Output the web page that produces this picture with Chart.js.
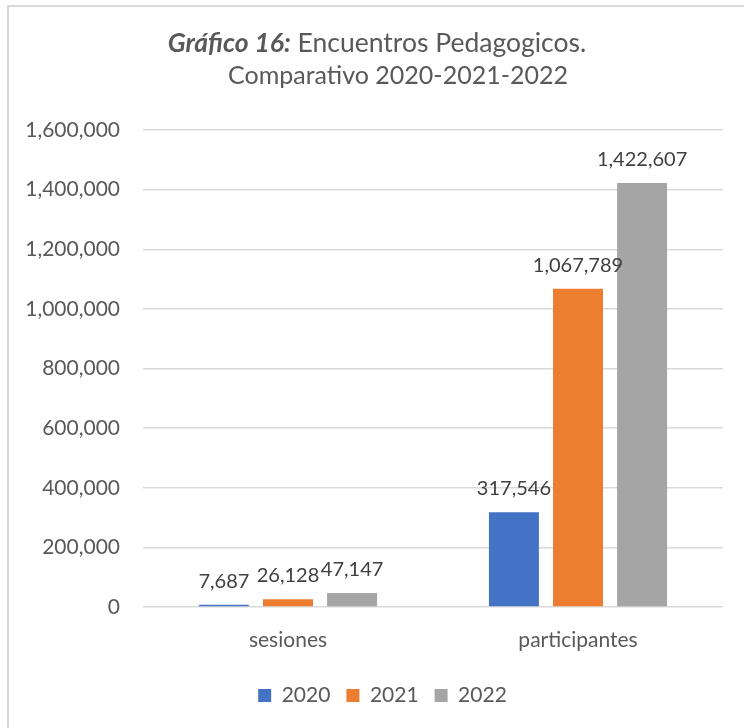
<!DOCTYPE html>
<html lang="es">
<head>
  <meta charset="UTF-8">
  <title>Encuentros Pedagogicos</title>
  <script src="https://cdn.jsdelivr.net/npm/chart.js"></script>
  <style>
    html, body {
      margin: 0;
      padding: 0;
      background: #fff;
      overflow: hidden;
    }
    #frame {
      position: absolute;
      left: 7px;
      top: 5px;
      width: 900px;
      height: 900px;
      border: 2px solid #d9d9d9;
    }
    #wrap {
      position: absolute;
      left: 0;
      top: 0;
      width: 744px;
      height: 728px;
    }
  </style>
</head>
<body>
  <div id="frame"></div>
  <div id="wrap"><canvas id="myChart" width="744" height="728"></canvas></div>

  <script>
    // datos
    const categorias = ['sesiones', 'participantes'];
    const anios = ['2020', '2021', '2022'];
    const valores2020 = [7687, 317546];
    const valores2021 = [26128, 1067789];
    const valores2022 = [47147, 1422607];
    const colores = ['#4472C4', '#ED7D31', '#A5A5A5'];
    const ticksY = [0, 200000, 400000, 600000, 800000, 1000000, 1200000, 1400000, 1600000];

    const tituloNegrita = 'Gráfico 16:';
    const tituloResto = ' Encuentros Pedagogicos.';
    const tituloLinea2 = 'Comparativo 2020-2021-2022';

    const fuente = 'Lato, "Open Sans", sans-serif';
    const gris = '#595959';

    const fmt = v => v.toLocaleString('en-US');

    // titulo con parte en negrita cursiva
    const tituloPlugin = {
      id: 'tituloMixto',
      afterDraw(chart) {
        const ctx = chart.ctx;
        ctx.save();
        ctx.fillStyle = gris;
        ctx.textBaseline = 'alphabetic';
        ctx.textAlign = 'left';
        const fNeg = 'italic bold 26.5px ' + fuente;
        const fNor = '26.5px ' + fuente;
        ctx.font = fNeg;
        const w1 = ctx.measureText(tituloNegrita).width;
        ctx.font = fNor;
        const w2 = ctx.measureText(tituloResto).width;
        let x = 377 - (w1 + w2) / 2;
        ctx.font = fNeg;
        ctx.fillText(tituloNegrita, x, 52);
        ctx.font = fNor;
        ctx.fillText(tituloResto, x + w1, 52);
        ctx.font = '25px ' + fuente;
        ctx.textAlign = 'center';
        ctx.fillText(tituloLinea2, 398, 84);
        ctx.restore();
      }
    };

    // etiquetas de valor sobre las barras
    const etiquetasPlugin = {
      id: 'etiquetas',
      afterDatasetsDraw(chart) {
        const ctx = chart.ctx;
        ctx.save();
        ctx.font = '20px ' + fuente;
        ctx.fillStyle = '#404040';
        ctx.textAlign = 'center';
        ctx.textBaseline = 'alphabetic';
        chart.data.datasets.forEach((ds, i) => {
          chart.getDatasetMeta(i).data.forEach((bar, j) => {
            ctx.fillText(fmt(ds.data[j]), bar.x, bar.y - 17);
          });
        });
        ctx.restore();
      }
    };

    // la leyenda de Excel queda algo a la derecha del centro
    const leyendaPlugin = {
      id: 'moverLeyenda',
      afterLayout(chart) {
        chart.legend.left += 21;
        chart.legend.right += 21;
      }
    };

    const series = [valores2020, valores2021, valores2022];

    new Chart(document.getElementById('myChart'), {
      type: 'bar',
      data: {
        labels: categorias,
        datasets: anios.map((a, i) => ({
          label: a,
          data: series[i],
          backgroundColor: colores[i],
          borderWidth: 0,
          categoryPercentage: 0.663,
          barPercentage: 0.78
        }))
      },
      options: {
        responsive: false,
        animation: false,
        layout: {
          padding: { top: 130, right: 21, bottom: 12, left: 0 }
        },
        scales: {
          x: {
            grid: { display: false },
            border: { display: false },
            ticks: {
              color: gris,
              font: { family: fuente, size: 21 },
              padding: 13
            },
            afterFit(s) { s.height = 62; }
          },
          y: {
            min: 0,
            max: 1600000,
            afterBuildTicks(s) { s.ticks = ticksY.map(v => ({ value: v })); },
            grid: { color: '#d9d9d9', lineWidth: 1.5, drawTicks: false },
            border: { display: false },
            ticks: {
              color: gris,
              font: { family: fuente, size: 21 },
              padding: 23,
              callback: v => fmt(v)
            },
            afterFit(s) { s.width = 143; }
          }
        },
        plugins: {
          title: { display: false },
          tooltip: { enabled: false },
          legend: {
            position: 'bottom',
            labels: {
              color: gris,
              font: { family: fuente, size: 21 },
              boxWidth: 13,
              boxHeight: 13,
              padding: 16
            }
          }
        }
      },
      plugins: [tituloPlugin, etiquetasPlugin, leyendaPlugin]
    });
  </script>
</body>
</html>
